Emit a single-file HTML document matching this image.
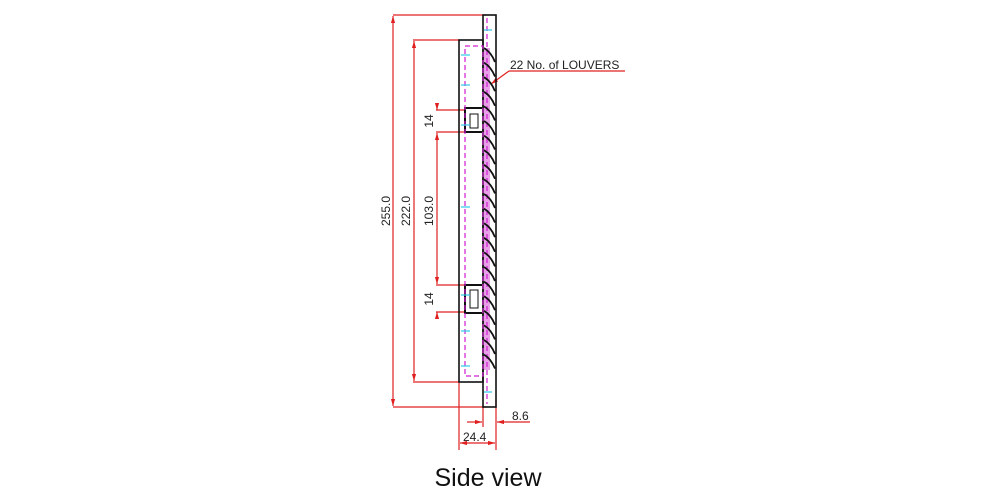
<!DOCTYPE html>
<html><head><meta charset="utf-8"><style>
html,body{margin:0;padding:0;background:#fff;}
svg{display:block;}
</style></head><body>
<svg width="1000" height="497" viewBox="0 0 1000 497" xmlns="http://www.w3.org/2000/svg" font-family="Liberation Sans, sans-serif">
<defs>
<marker id="a" viewBox="0 0 10 10" refX="10" refY="5" markerWidth="6" markerHeight="6" orient="auto-start-reverse"><path d="M0,2 L10,5 L0,8z" fill="#e02020"/></marker>
</defs>
<g stroke="#e02020" stroke-width="1.2" fill="none">
<line x1="393" y1="15" x2="486" y2="15"/>
<line x1="393" y1="407" x2="486" y2="407"/>
<line x1="393" y1="16" x2="393" y2="406" marker-start="url(#a)" marker-end="url(#a)"/>
<line x1="413" y1="40" x2="460" y2="40"/>
<line x1="413" y1="382" x2="460" y2="382"/>
<line x1="414" y1="41" x2="414" y2="381" marker-start="url(#a)" marker-end="url(#a)"/>
<line x1="436" y1="110" x2="466" y2="110"/>
<line x1="436" y1="132" x2="466" y2="132"/>
<line x1="436" y1="285" x2="466" y2="285"/>
<line x1="436" y1="312" x2="466" y2="312"/>
<line x1="437" y1="104" x2="437" y2="110" marker-end="url(#a)"/>
<line x1="437" y1="133" x2="437" y2="284" marker-start="url(#a)" marker-end="url(#a)"/>
<line x1="437" y1="318" x2="437" y2="312" marker-end="url(#a)"/>
<line x1="459" y1="382" x2="459" y2="450"/>
<line x1="483" y1="407" x2="483" y2="427"/>
<line x1="496" y1="400" x2="496" y2="450"/>
<line x1="467" y1="422" x2="482" y2="422" marker-end="url(#a)"/>
<line x1="530" y1="422" x2="497" y2="422" marker-end="url(#a)"/>
<line x1="460" y1="443" x2="495" y2="443" marker-start="url(#a)" marker-end="url(#a)"/>
<polyline points="509,71 625,71"/>
<line x1="509" y1="71" x2="491" y2="84" marker-end="url(#a)"/>
</g>
<rect x="484" y="48" width="6" height="322" fill="#d040d0" opacity="0.5"/>
<g stroke="#111" stroke-width="1.6" fill="none">
<rect x="459" y="40" width="24" height="342"/>
<rect x="483" y="15" width="13" height="392"/>
<path d="M482,108 H465 V132 H482" stroke-width="2"/>
<path d="M482,285 H465 V313 H482" stroke-width="2"/>
<rect x="470" y="114" width="8" height="14" stroke-width="1"/>
<rect x="470" y="290" width="8" height="18" stroke-width="1"/>
</g>
<g stroke="#d020d0" stroke-width="1.2" fill="none" stroke-dasharray="5,3">
<rect x="465" y="46" width="18" height="330"/>
<line x1="487" y1="18" x2="487" y2="404"/>
</g>
<g stroke="#111" stroke-width="1.8" fill="none">
<path d="M484,48 q7,4 11,14 M484,62.6 q7,4 11,14 M484,77.2 q7,4 11,14 M484,91.8 q7,4 11,14 M484,106.4 q7,4 11,14 M484,121 q7,4 11,14 M484,135.6 q7,4 11,14 M484,150.2 q7,4 11,14 M484,164.8 q7,4 11,14 M484,179.4 q7,4 11,14 M484,194 q7,4 11,14 M484,208.6 q7,4 11,14 M484,223.2 q7,4 11,14 M484,237.8 q7,4 11,14 M484,252.4 q7,4 11,14 M484,267 q7,4 11,14 M484,281.6 q7,4 11,14 M484,296.2 q7,4 11,14 M484,310.8 q7,4 11,14 M484,325.4 q7,4 11,14 M484,340 q7,4 11,14 M484,354.6 q7,4 11,14"/>
</g>
<g stroke="#30c8e8" stroke-width="1.2">
<line x1="461" y1="55" x2="470" y2="55"/><line x1="461" y1="85" x2="470" y2="85"/><line x1="461" y1="125" x2="470" y2="125"/>
<line x1="461" y1="207" x2="470" y2="207"/><line x1="461" y1="295" x2="470" y2="295"/><line x1="461" y1="331" x2="470" y2="331"/><line x1="461" y1="366" x2="470" y2="366"/>
<line x1="484" y1="30" x2="492" y2="30"/><line x1="484" y1="392" x2="492" y2="392"/>
</g>
<g fill="#222" font-size="12">
<text transform="translate(390,211) rotate(-90)" text-anchor="middle">255.0</text>
<text transform="translate(410,211) rotate(-90)" text-anchor="middle">222.0</text>
<text transform="translate(433,211) rotate(-90)" text-anchor="middle">103.0</text>
<text transform="translate(433,121) rotate(-90)" text-anchor="middle">14</text>
<text transform="translate(433,299) rotate(-90)" text-anchor="middle">14</text>
<text x="512" y="420">8.6</text>
<text x="463" y="441">24.4</text>
<text x="510" y="69">22 No. of LOUVERS</text>
</g>
<text x="488" y="486" text-anchor="middle" font-size="25" fill="#111">Side view</text>
</svg>
</body></html>
